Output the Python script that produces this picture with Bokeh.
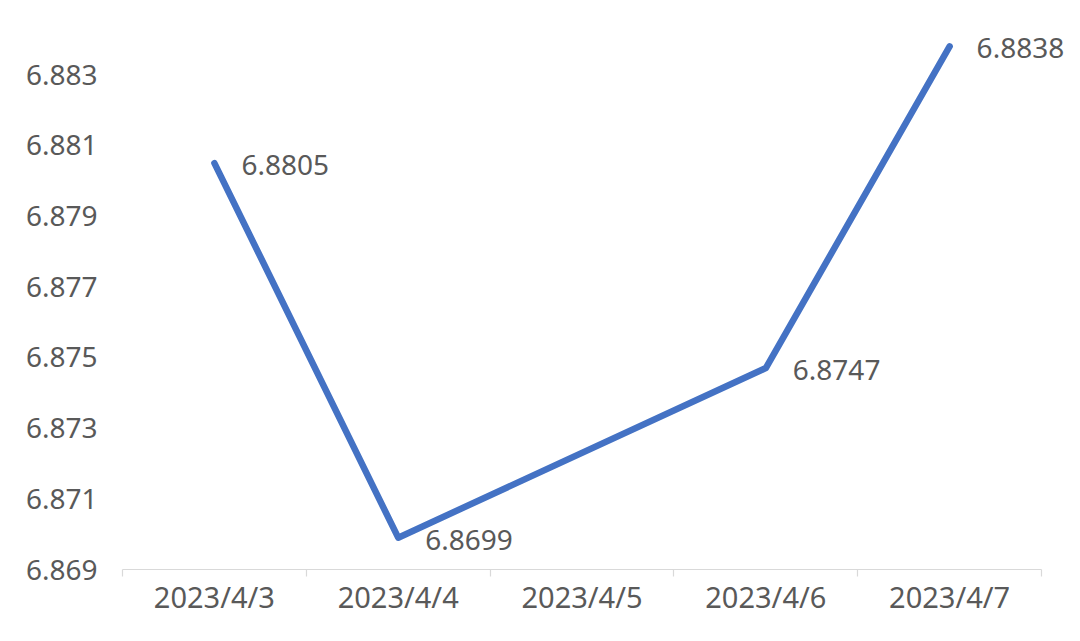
from bokeh.plotting import figure
from bokeh.models import ColumnDataSource, Range1d, FixedTicker, PrintfTickFormatter, LabelSet
from bokeh.core.properties import value
from bokeh.embed import file_html
from bokeh.resources import INLINE

categories = ["2023/4/3", "2023/4/4", "2023/4/5", "2023/4/6", "2023/4/7"]
dates = ["2023/4/3", "2023/4/4", "2023/4/6", "2023/4/7"]
values = [6.8805, 6.8699, 6.8747, 6.8838]
y_ticks = [6.869, 6.871, 6.873, 6.875, 6.877, 6.879, 6.881, 6.883]

FONT = "Noto Sans"
TXT = "#595959"
FS = "28px"

xs = [categories.index(d) for d in dates]
src = ColumnDataSource(dict(x=xs, y=values, label=[f"{v:.4f}" for v in values]))

n = len(categories)
p = figure(width=1064, height=625, output_backend="svg", toolbar_location=None,
           x_range=Range1d(-0.5, n - 0.5 + 0.125),
           y_range=Range1d(6.869, 6.8851),
           min_border_left=122, min_border_right=0, min_border_top=0, min_border_bottom=56)
p.outline_line_color = None
p.background_fill_color = "white"
p.border_fill_color = "white"
p.xgrid.visible = False
p.ygrid.visible = False

p.line("x", "y", source=src, line_color="#4472C4", line_width=6.5,
       line_cap="round", line_join="round")

labels = LabelSet(x="x", y="y", text="label", source=src, x_offset=27, y_offset=-2,
                  text_baseline="middle", text_align="left", text_font=value(FONT),
                  text_font_size=value(FS), text_color=TXT)
p.add_layout(labels)

# x axis: labels at category centres, tick marks at category boundaries
xa = p.xaxis[0]
xa.bounds = (-0.5, n - 0.5)
xa.ticker = FixedTicker(ticks=list(range(n)),
                        minor_ticks=[i - 0.5 for i in range(n + 1)])
xa.major_label_overrides = {i: c for i, c in enumerate(categories)}
xa.major_tick_out = 0
xa.major_tick_in = 0
xa.minor_tick_out = 7
xa.minor_tick_in = 0
xa.minor_tick_line_color = "#D9D9D9"
xa.minor_tick_line_width = 1.2
xa.axis_line_color = "#D9D9D9"
xa.axis_line_width = 1.2
xa.major_label_text_font = FONT
xa.major_label_text_font_size = "29px"
xa.major_label_text_color = TXT
xa.major_label_standoff = 0

ya = p.yaxis[0]
ya.ticker = FixedTicker(ticks=y_ticks)
ya.formatter = PrintfTickFormatter(format="%.3f")
ya.axis_line_color = None
ya.major_tick_line_color = None
ya.minor_tick_line_color = None
ya.major_tick_out = 0
ya.major_label_standoff = 25
ya.major_label_text_font = FONT
ya.major_label_text_font_size = FS
ya.major_label_text_color = TXT

open("out.html", "w").write(file_html(p, INLINE))
